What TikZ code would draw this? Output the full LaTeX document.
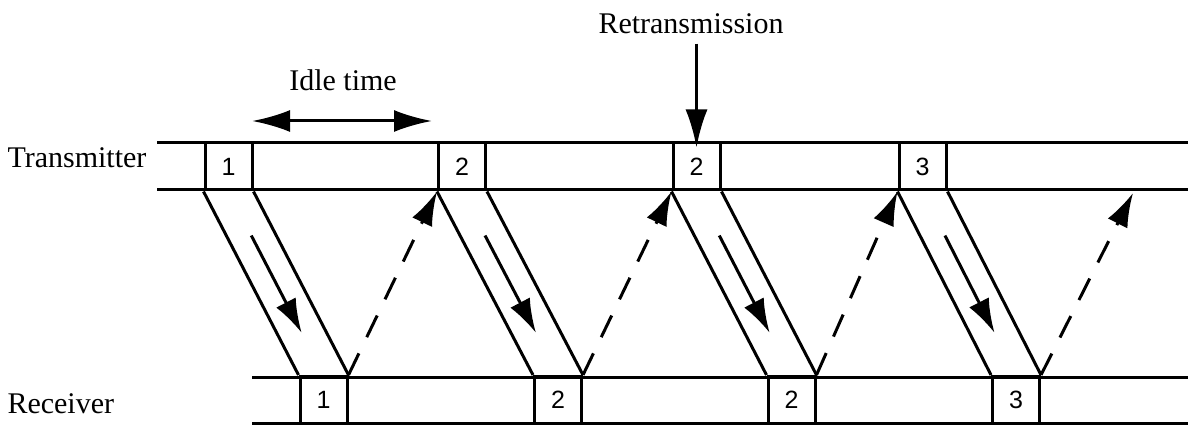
\documentclass[tikz,border=0pt]{standalone}
\usepackage{fontspec}
\setmainfont{Liberation Serif}
\setsansfont{Liberation Sans}
\usetikzlibrary{arrows.meta, calc}

\begin{document}
\begin{tikzpicture}[
    x=1pt, y=-1pt,
    line width=3pt,
    slot/.style={rectangle, draw, line width=3pt, minimum width=47pt, minimum height=47pt, inner sep=0pt, font=\sffamily\fontsize{25}{25}\selectfont},
    txt/.style={inner sep=0pt, font=\fontsize{30}{30}\selectfont},
    arrow/.style={-{Latex[length=34pt, width=22pt]}},
    ack/.style={arrow, dash pattern=on 24pt off 18pt}
]
    \useasboundingbox (0,0) rectangle (1188,430);

    \node[txt, anchor=base west] (tname) at (6,168) {Transmitter};
    \node[txt, anchor=base west] (rname) at (6,413) {Receiver};
    \node[txt] (retx) at (691,24) {Retransmission};
    \node[txt] (idle) at (343,80) {Idle time};

    \draw (157,143) -- (1188,143);
    \draw (157,190) -- (1188,190);
    \draw (252,377) -- (1188,377);
    \draw (252,423) -- (1188,423);

    \node[slot] (tx1) at (228.5,166.5) {1};
    \node[slot] (tx2) at (462,166.5) {2};
    \node[slot] (tx2r) at (696.5,166.5) {2};
    \node[slot] (tx3) at (922.5,166.5) {3};

    \node[slot] (rx1) at (323.5,400) {1};
    \node[slot] (rx2) at (558,400) {2};
    \node[slot] (rx2r) at (791.5,400) {2};
    \node[slot] (rx3) at (1016,400) {3};

    \coordinate (idleA) at (252,121);
    \coordinate (idleB) at (432,121);
    \coordinate (lastack) at (1133,193);

    \draw[{Latex[length=38pt, width=22pt]}-{Latex[length=38pt, width=22pt]}] (idleA) -- (idleB);
    \draw[-{Latex[length=38pt, width=22pt]}] (retx.south -| tx2r.north) ++(0,8) -- ([yshift=-6pt]tx2r.north);

    \foreach \s/\r in {tx1/rx1, tx2/rx2, tx2r/rx2r, tx3/rx3} {
        \draw (\s.south west) -- (\r.north west);
        \draw (\s.south east) -- (\r.north east);
        \draw[arrow] ($(\s.south)!0.24!(\r.north)$) -- ($(\s.south)!0.77!(\r.north)$);
    }

    \draw[ack] (rx1.north east) -- (tx2.south west);
    \draw[ack] (rx2.north east) -- (tx2r.south west);
    \draw[ack] (rx2r.north east) -- (tx3.south west);
    \draw[ack] (rx3.north east) -- (lastack);
\end{tikzpicture}
\end{document}
